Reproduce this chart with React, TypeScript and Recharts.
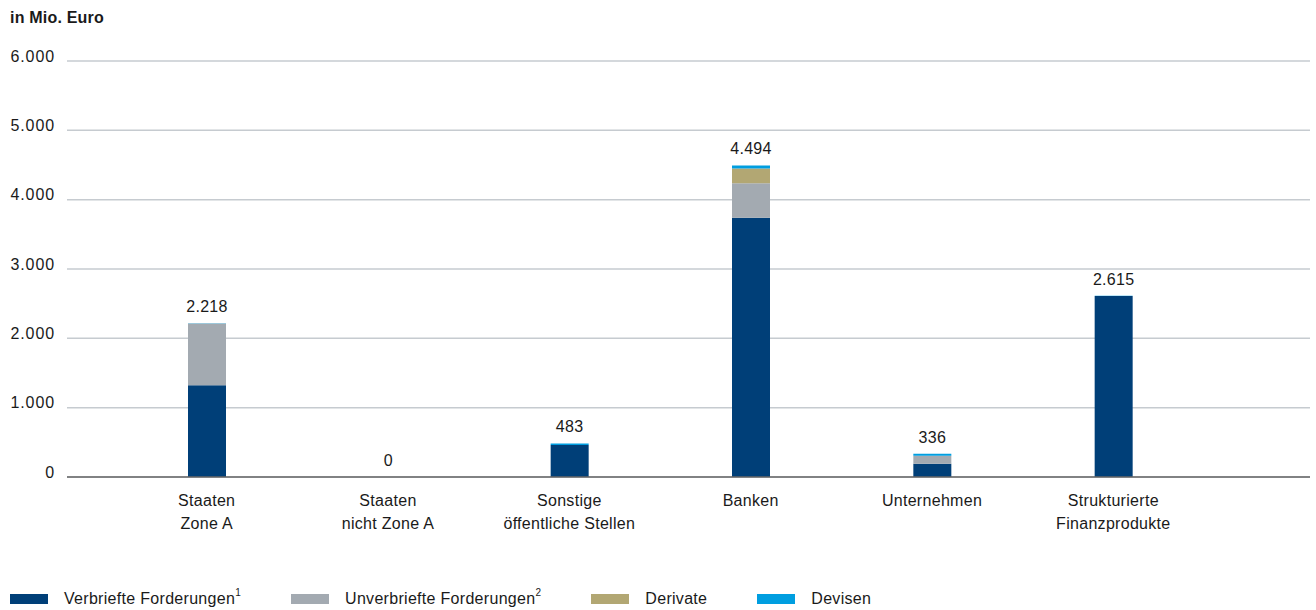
import React from "react";
import { BarChart, Bar, XAxis, YAxis, CartesianGrid, Legend, LabelList } from "recharts";

const categories = [
  "Staaten\nZone A",
  "Staaten\nnicht Zone A",
  "Sonstige\nöffentliche Stellen",
  "Banken",
  "Unternehmen",
  "Strukturierte\nFinanzprodukte",
];
const verbriefte = [1325, 0, 463, 3740, 192, 2610];
const unverbriefte = [888, 0, 0, 495, 115, 0];
const derivate = [0, 0, 0, 214, 0, 0];
const devisen = [5, 0, 20, 45, 29, 5];
const totals = [2218, 0, 483, 4494, 336, 2615];
const yTicks = [0, 1000, 2000, 3000, 4000, 5000, 6000];

const seriesNames = ["Verbriefte Forderungen", "Unverbriefte Forderungen", "Derivate", "Devisen"];
const seriesSup = ["1", "2", "", ""];
const seriesColors = ["#003f78", "#a3aab1", "#b2a773", "#009ee0"];
const seriesKeys = ["verbriefte", "unverbriefte", "derivate", "devisen"];

const data = categories.map((c, i) => ({
  name: c,
  verbriefte: verbriefte[i],
  unverbriefte: unverbriefte[i],
  derivate: derivate[i],
  devisen: devisen[i],
  total: totals[i],
}));

const FONT = "'Liberation Sans', Arial, sans-serif";
const fmt = (v: number) => v.toLocaleString("de-DE");

const XTick = (props: any) => {
  const { x, y, payload } = props;
  const lines = String(payload.value).split("\n");
  return (
    <g>
      {lines.map((l, i) => (
        <text key={i} x={x} y={y + 29 + i * 23} textAnchor="middle" fontSize={16} fill="#1a1a1a" fontFamily={FONT} letterSpacing={0.3}>
          {l}
        </text>
      ))}
    </g>
  );
};

const YTick = (props: any) => {
  const { x, y, payload } = props;
  return (
    <text x={x - 12} y={y - 5} dy="0.35em" textAnchor="end" fontSize={16} fill="#1a1a1a" fontFamily={FONT} letterSpacing={0.9}>
      {fmt(payload.value)}
    </text>
  );
};

const TotalLabel = (props: any) => {
  const { x, y, width, index } = props;
  return (
    <text x={x + width / 2} y={y - 11} textAnchor="middle" fontSize={16} fill="#1a1a1a" fontFamily={FONT} letterSpacing={0.3}>
      {fmt(totals[index])}
    </text>
  );
};

const LegendContent = () => (
  <div style={{ display: "flex", alignItems: "center", height: 22, fontFamily: FONT, fontSize: 16, color: "#1a1a1a", letterSpacing: 0.3 }}>
    {seriesNames.map((n, i) => (
      <div key={n} style={{ display: "flex", alignItems: "center", marginRight: 50 }}>
        <div style={{ width: 38, height: 10, background: seriesColors[i], marginRight: 16 }} />
        <span style={{ whiteSpace: "nowrap" }}>
          {n}
          {seriesSup[i] ? <sup style={{ fontSize: 10, verticalAlign: "top", position: "relative", top: -3 }}>{seriesSup[i]}</sup> : null}
        </span>
      </div>
    ))}
  </div>
);

export default function App() {
  return (
    <div style={{ position: "absolute", left: 0, top: 0, width: 1316, height: 610, background: "#fff" }}>
      <div style={{ position: "absolute", left: 10, top: 8, fontFamily: FONT, fontWeight: "bold", fontSize: 16, lineHeight: "20px", color: "#1a1a1a", letterSpacing: 0.2 }}>
        in Mio. Euro
      </div>
      <BarChart width={1316} height={610} data={data} margin={{ top: 61, right: 6, left: 0, bottom: 51 }}>
        <CartesianGrid horizontal vertical={false} stroke="#c6cbd0" strokeWidth={1.5} />
        <XAxis
          dataKey="name"
          height={60}
          tickSize={0}
          tickMargin={0}
          tickLine={false}
          axisLine={{ stroke: "#666", strokeWidth: 1.5 }}
          padding={{ left: 49, right: 106 }}
          tick={<XTick />}
          interval={0}
        />
        <YAxis
          width={67}
          domain={[0, 6000]}
          ticks={yTicks}
          axisLine={false}
          tickLine={false}
          tickSize={0}
          tickMargin={0}
          tick={<YTick />}
          interval={0}
        />
        <Legend
          verticalAlign="bottom"
          align="left"
          content={<LegendContent />}
          wrapperStyle={{ position: "absolute", left: 10, top: 588, bottom: "auto", width: "auto" }}
        />
        {seriesKeys.map((k, i) => (
          <Bar key={k} dataKey={k} stackId="a" fill={seriesColors[i]} barSize={38} isAnimationActive={false} />
        ))}
        <Bar
          dataKey={() => 0}
          stackId="a"
          fill="transparent"
          barSize={38}
          minPointSize={0.1}
          legendType="none"
          isAnimationActive={false}
        >
          <LabelList content={<TotalLabel />} />
        </Bar>
      </BarChart>
    </div>
  );
}
